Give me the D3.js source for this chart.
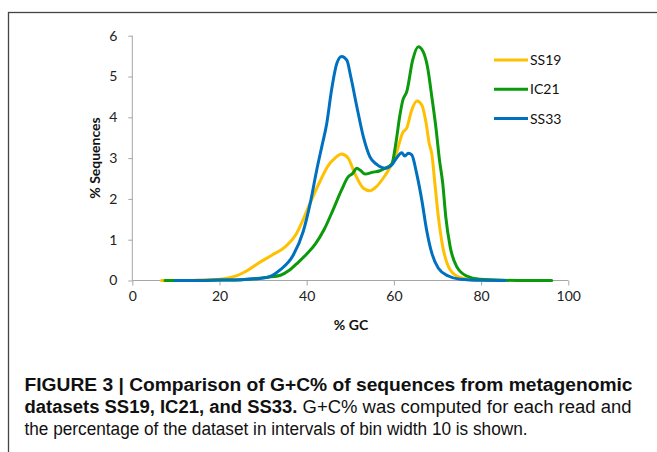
<!DOCTYPE html>
<html lang='en'>
  <head>
    <meta charset='utf-8'>
    <title>GC content</title>
    <style>
      body { margin: 0; background: #fff; }
      .axis path, .axis line { stroke: #a6a6a6; }
      .axis text { font-family: Lato, sans-serif; font-size: 14px; fill: #222; }
      .atitle { font-family: Lato, sans-serif; font-size: 14px; font-weight: bold; fill: #111; }
      .leg { font-family: Lato, sans-serif; font-size: 14px; fill: #111; }
      .cap { font-family: 'Liberation Sans', Arial, sans-serif; font-size: 18px; fill: #111; }
    </style>
  </head>
  <body>
    <div id="container"></div>
    <script src='https://cdnjs.cloudflare.com/ajax/libs/d3/7.8.5/d3.min.js'></script>
    <script>
      // values
      var seriesNames = ["SS19", "IC21", "SS33"];
      var seriesColors = ["#ffc000", "#0b9a0b", "#0070c0"];

      var gcSS19 = [6.7, 10, 15, 18, 20, 22, 24, 26, 29, 32, 35, 37.5, 39, 41, 43, 45, 46.5, 48, 49.5, 51, 53, 54.5, 56, 57.5, 59, 60.5, 62, 63, 64, 65.3, 66.4, 67.4, 68.1, 68.7, 69.4, 70.2, 71.2, 72.5, 74.4, 77, 80, 85];
      var valSS19 = [0, 0, 0.01, 0.02, 0.03, 0.06, 0.12, 0.22, 0.43, 0.62, 0.82, 1.12, 1.45, 1.95, 2.42, 2.83, 3.0, 3.1, 3.0, 2.63, 2.26, 2.2, 2.3, 2.5, 2.75, 3.1, 3.62, 3.75, 4.15, 4.4, 4.3, 3.85, 3.36, 3.1, 2.38, 1.56, 0.83, 0.34, 0.11, 0.03, 0.01, 0];

      var gcIC21 = [7.5, 10, 15, 20, 25, 28, 31, 34, 36, 38, 40, 42, 44, 46, 48, 49.5, 50.5, 51.5, 52.3, 53.4, 55, 56.8, 58, 59.5, 60.5, 61.3, 62, 63, 64.3, 65.6, 66.7, 67.7, 68.7, 69.7, 70.4, 71.2, 71.9, 72.9, 74.4, 76.7, 79.7, 85, 90, 96.2];
      var valIC21 = [0, 0, 0, 0.01, 0.02, 0.04, 0.08, 0.13, 0.25, 0.44, 0.65, 0.9, 1.25, 1.72, 2.22, 2.54, 2.62, 2.75, 2.7, 2.61, 2.65, 2.69, 2.75, 2.85, 3.4, 4.0, 4.4, 4.65, 5.4, 5.73, 5.61, 5.24, 4.5, 3.69, 3.0, 2.38, 1.56, 0.83, 0.34, 0.11, 0.03, 0.005, 0, 0];

      var gcSS33 = [9.8, 15, 20, 25, 28, 30.8, 33.9, 36.9, 39.2, 40.8, 42.3, 43.5, 44.6, 45.7, 46.9, 48, 49.2, 50.1, 51.5, 53, 54.5, 56, 58, 59.5, 60.6, 61.8, 62.5, 63.3, 64.1, 65.2, 66.4, 67.5, 68.7, 70.2, 72.5, 75.2, 80, 85.5];
      var valSS33 = [0, 0, 0.01, 0.02, 0.04, 0.07, 0.26, 0.62, 1.2, 1.89, 2.71, 3.3, 3.85, 4.67, 5.32, 5.49, 5.4, 5.0, 4.26, 3.52, 3.03, 2.85, 2.75, 2.83, 3.0, 3.13, 3.05, 3.12, 3.08, 2.63, 1.97, 1.24, 0.67, 0.3, 0.11, 0.03, 0.005, 0];

      var xTicks = [0, 20, 40, 60, 80, 100];
      var yTicks = [0, 1, 2, 3, 4, 5, 6];

      var w = 657, h = 452;

      var series = [
        { name: seriesNames[0], color: seriesColors[0], x: gcSS19, y: valSS19 },
        { name: seriesNames[1], color: seriesColors[1], x: gcIC21, y: valIC21 },
        { name: seriesNames[2], color: seriesColors[2], x: gcSS33, y: valSS33 }
      ];

      var xScale = d3.scaleLinear().domain([0, 100]).range([132.3, 568.3]);
      var yScale = d3.scaleLinear().domain([0, 6]).range([280.5, 35.7]);

      var svg = d3.select("#container").append("svg")
        .attr("width", w)
        .attr("height", h);

      // frame round the figure
      svg.append("rect")
        .attr("x", 8.5).attr("y", 12.5)
        .attr("width", 700).attr("height", 500)
        .attr("fill", "none")
        .attr("stroke", "#444")
        .attr("stroke-width", 1.3);

      var xAxis = d3.axisBottom(xScale).tickValues(xTicks).tickSize(5).tickPadding(6);
      var yAxis = d3.axisLeft(yScale).tickValues(yTicks).tickSize(4).tickPadding(11)
        .tickFormat(d3.format("d"));

      svg.append("g")
        .attr("class", "axis")
        .attr("transform", "translate(0," + yScale(0) + ")")
        .call(xAxis)
        .call(function(g) { g.select(".domain").attr("d", "M" + xScale(0) + ",0H" + xScale(100)); });

      svg.append("g")
        .attr("class", "axis")
        .attr("transform", "translate(" + xScale(0) + ",0)")
        .call(yAxis)
        .call(function(g) { g.select(".domain").attr("d", "M0," + yScale(0) + "V" + yScale(6)); });

      var line = d3.line()
        .x(function(d) { return xScale(d[0]); })
        .y(function(d) { return yScale(d[1]); })
        .curve(d3.curveMonotoneX);

      series.forEach(function(s) {
        var pts = s.x.map(function(v, i) { return [v, s.y[i]]; });
        svg.append("path")
          .datum(pts)
          .attr("d", line)
          .attr("fill", "none")
          .attr("stroke", s.color)
          .attr("stroke-width", 3)
          .attr("stroke-linejoin", "round")
          .attr("stroke-linecap", "round");
      });

      // legend
      var leg = svg.append("g");
      series.forEach(function(s, i) {
        var y = 60 + i * 29.3;
        leg.append("line")
          .attr("x1", 494).attr("x2", 528)
          .attr("y1", y).attr("y2", y)
          .attr("stroke", s.color).attr("stroke-width", 3);
        leg.append("text")
          .attr("class", "leg")
          .attr("x", 530).attr("y", y + 5)
          .text(s.name);
      });

      // axis titles
      svg.append("text")
        .attr("class", "atitle")
        .attr("x", 351).attr("y", 330)
        .attr("text-anchor", "middle")
        .text("% GC");

      svg.append("text")
        .attr("class", "atitle")
        .attr("transform", "translate(100,158) rotate(-90)")
        .attr("text-anchor", "middle")
        .text("% Sequences");

      // caption
      var c1 = svg.append("text").attr("class", "cap")
        .attr("x", 24.5).attr("y", 391)
        .attr("textLength", 608).attr("lengthAdjust", "spacingAndGlyphs");
      c1.append("tspan").attr("font-weight", "bold")
        .text("FIGURE 3 | Comparison of G+C% of sequences from metagenomic");

      var c2 = svg.append("text").attr("class", "cap")
        .attr("x", 24.5).attr("y", 413)
        .attr("textLength", 607).attr("lengthAdjust", "spacingAndGlyphs");
      c2.append("tspan").attr("font-weight", "bold").text("datasets SS19, IC21, and SS33.");
      c2.append("tspan").text(" G+C% was computed for each read and");

      svg.append("text").attr("class", "cap")
        .attr("x", 24.5).attr("y", 434.5)
        .attr("textLength", 503).attr("lengthAdjust", "spacingAndGlyphs")
        .text("the percentage of the dataset in intervals of bin width 10 is shown.");
    </script>
  </body>
</html>
